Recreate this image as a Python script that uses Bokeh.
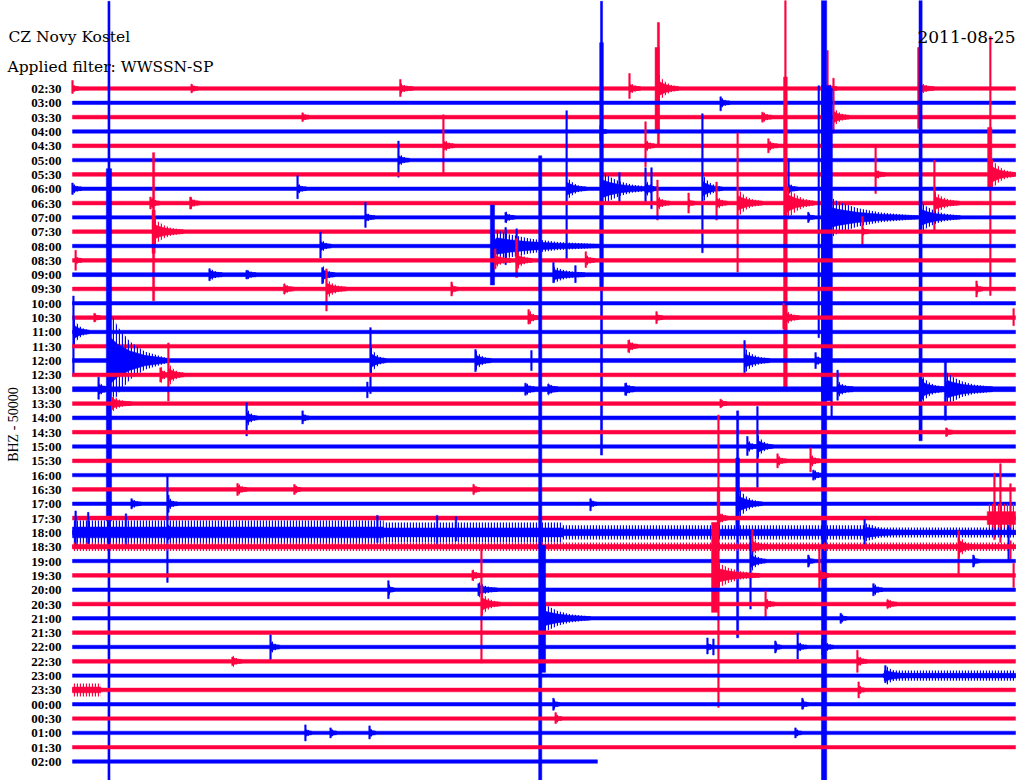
from math import pi
from bokeh.plotting import figure
from bokeh.models import Range1d, ColumnDataSource
from bokeh.embed import file_html
from bokeh.resources import INLINE
from bokeh.core.properties import value

STATION = "CZ Novy Kostel"
FILTER = "Applied filter: WWSSN-SP"
DATE = "2011-08-25"
AXIS_LABEL = "BHZ - 50000"

LABELS = ["02:30", "03:00", "03:30", "04:00", "04:30", "05:00", "05:30", "06:00",
          "06:30", "07:00", "07:30", "08:00", "08:30", "09:00", "09:30", "10:00",
          "10:30", "11:00", "11:30", "12:00", "12:30", "13:00", "13:30", "14:00",
          "14:30", "15:00", "15:30", "16:00", "16:30", "17:00", "17:30", "18:00",
          "18:30", "19:00", "19:30", "20:00", "20:30", "21:00", "21:30", "22:00",
          "22:30", "23:00", "23:30", "00:00", "00:30", "01:00", "01:30", "02:00"]

LINE_MINUTES = 30.0      # each trace covers 30 minutes
LAST_LINE_END = 16.70    # the last trace stops here (minutes)

# background noise half-amplitude per trace (in trace spacings)
NOISE = [0.13, 0.12, 0.13, 0.12, 0.13, 0.12, 0.13, 0.12, 0.13, 0.12, 0.13, 0.12,
         0.13, 0.14, 0.13, 0.12, 0.13, 0.12, 0.13, 0.14, 0.13, 0.17, 0.13, 0.13,
         0.13, 0.12, 0.13, 0.12, 0.13, 0.12, 0.14, 0.14, 0.14, 0.12, 0.13, 0.12,
         0.13, 0.12, 0.13, 0.12, 0.13, 0.12, 0.13, 0.12, 0.12, 0.12, 0.12, 0.12]

# stretches of raised noise: (trace, start min, end min, half-amplitude)
NOISY = [
    (30, 29.10, 30.0, 1.00),
    (31, 0.0, 9.9, 0.84),
    (31, 9.9, 15.6, 0.70),
    (31, 15.6, 25.5, 0.50),
    (31, 25.5, 30.0, 0.35),
    (32, 0.0, 30.0, 0.30),
    (41, 25.8, 30.0, 0.35),
    (42, 0.0, 0.9, 0.45),
]

# events: (trace, minute, peak up, peak down, peak duration s, coda amplitude, coda minutes)
EVENTS = [
    (0, 0.00, 0.56, 0.35, 3, 0.20, 0.20),
    (0, 3.79, 0.30, 0.30, 3, 0.20, 0.20),
    (0, 10.43, 0.63, 0.56, 3, 0.25, 0.40),
    (0, 17.72, 1.05, 0.70, 3, 0.35, 0.35),
    (0, 18.64, 4.61, 3.98, 4, 0.84, 0.65),
    (0, 18.60, 2.86, 2.93, 8, 0.0, 0.0),
    (0, 24.02, 2.65, 0.70, 3, 0.30, 0.30),
    (0, 26.91, 2.86, 2.79, 3, 0.42, 0.50),
    (1, 20.62, 0.42, 0.56, 3, 0.30, 0.30),
    (2, 7.32, 0.30, 0.30, 3, 0.20, 0.20),
    (2, 21.95, 0.35, 0.35, 3, 0.30, 0.30),
    (2, 24.21, 2.72, 1.12, 3, 0.56, 0.50),
    (3, 16.80, 0.42, 0.63, 3, 0.20, 0.20),
    (4, 11.80, 2.16, 1.96, 3, 0.42, 0.35),
    (4, 18.23, 1.68, 1.47, 3, 0.35, 0.30),
    (4, 22.14, 0.49, 0.49, 3, 0.30, 0.30),
    (5, 10.37, 1.33, 1.19, 3, 0.42, 0.35),
    (6, 25.55, 1.89, 1.33, 3, 0.30, 0.30),
    (6, 29.20, 9.64, 8.45, 3, 1.05, 0.80),
    (6, 29.18, 3.28, 0.91, 8, 0.0, 0.0),
    (7, 0.00, 0.40, 0.40, 3, 0.30, 0.30),
    (7, 7.16, 0.91, 0.70, 3, 0.30, 0.30),
    (7, 15.72, 5.45, 5.03, 3, 0.70, 0.64),
    (7, 16.83, 13.1, 18.6, 4, 1.05, 1.60),
    (7, 16.83, 10.2, 6.91, 7, 0.0, 0.0),
    (7, 17.40, 1.12, 1.00, 3, 0.0, 0.0),
    (7, 18.23, 1.47, 1.00, 3, 0.50, 0.40),
    (7, 18.42, 1.47, 1.40, 3, 0.0, 0.0),
    (7, 20.04, 5.24, 4.47, 3, 0.84, 0.64),
    (7, 22.78, 2.09, 0.35, 3, 0.35, 0.30),
    (8, 2.48, 0.42, 0.42, 3, 0.35, 0.30),
    (8, 3.75, 0.42, 0.42, 3, 0.35, 0.30),
    (8, 18.61, 1.61, 1.19, 3, 0.42, 0.40),
    (8, 19.60, 0.70, 0.70, 3, 0.20, 0.20),
    (8, 20.49, 1.47, 1.19, 3, 0.42, 0.35),
    (8, 21.16, 4.89, 4.82, 3, 0.84, 0.80),
    (8, 22.68, 14.2, 12.9, 3, 1.19, 0.95),
    (8, 22.68, 8.80, 12.9, 7, 0.0, 0.0),
    (8, 27.42, 3.00, 1.89, 3, 0.70, 0.80),
    (9, 9.32, 1.05, 0.70, 3, 0.30, 0.30),
    (9, 13.78, 0.35, 0.35, 3, 0.30, 0.30),
    (9, 23.41, 0.35, 0.35, 3, 0.20, 0.20),
    (9, 23.98, 9.20, 12.8, 18, 0.0, 0.0),
    (9, 23.91, 15.2, 39.3, 10, 1.40, 3.00),
    (9, 24.15, 9.00, 13.9, 3, 0.0, 0.0),
    (9, 23.74, 9.20, 8.40, 3, 0.0, 0.0),
    (9, 26.98, 15.2, 15.6, 6, 0.91, 1.27),
    (10, 2.58, 5.52, 4.82, 4, 0.84, 0.95),
    (10, 2.58, 1.50, 1.50, 6, 0.0, 0.0),
    (10, 25.13, 1.05, 0.98, 3, 0.20, 0.20),
    (11, 7.89, 0.98, 0.84, 3, 0.42, 0.35),
    (11, 13.36, 2.86, 2.72, 8, 1.00, 3.50),
    (11, 13.78, 1.30, 1.30, 3, 0.70, 1.00),
    (11, 14.13, 1.20, 1.20, 3, 0.0, 0.0),
    (12, 0.10, 0.70, 0.70, 3, 0.20, 0.20),
    (12, 13.45, 0.80, 0.60, 3, 0.40, 0.50),
    (12, 14.13, 1.54, 1.19, 4, 0.56, 0.50),
    (12, 16.33, 0.60, 0.50, 3, 0.30, 0.30),
    (13, 4.36, 0.42, 0.42, 3, 0.35, 0.40),
    (13, 5.54, 0.30, 0.30, 3, 0.25, 0.30),
    (13, 7.95, 0.49, 0.63, 3, 0.50, 0.40),
    (13, 15.30, 0.84, 0.56, 3, 0.45, 1.00),
    (13, 16.00, 0.63, 0.56, 3, 0.0, 0.0),
    (14, 6.74, 0.35, 0.35, 3, 0.30, 0.30),
    (14, 8.08, 1.40, 1.54, 3, 0.56, 0.64),
    (14, 12.06, 0.49, 0.49, 3, 0.30, 0.20),
    (14, 28.76, 0.56, 0.56, 3, 0.30, 0.20),
    (16, 0.70, 0.30, 0.30, 3, 0.20, 0.20),
    (16, 14.51, 0.56, 0.45, 3, 0.50, 0.30),
    (16, 18.58, 0.42, 0.42, 3, 0.20, 0.20),
    (16, 22.62, 1.00, 0.77, 3, 0.60, 0.50),
    (16, 29.94, 0.63, 0.56, 3, 0.0, 0.0),
    (17, 0.03, 2.51, 3.07, 3, 0.84, 0.50),
    (18, 17.69, 0.42, 0.42, 3, 0.40, 0.30),
    (19, 1.16, 25.1, 29.4, 4, 3.14, 1.90),
    (19, 1.16, 13.4, 11.2, 10, 0.0, 0.0),
    (19, 9.48, 2.30, 2.30, 3, 0.84, 0.50),
    (19, 12.82, 0.77, 0.77, 3, 0.56, 0.50),
    (19, 14.60, 0.70, 0.70, 3, 0.0, 0.0),
    (19, 21.38, 1.40, 0.84, 3, 0.70, 0.80),
    (19, 23.64, 0.56, 0.56, 3, 0.30, 0.30),
    (20, 2.80, 0.50, 0.50, 3, 0.50, 0.30),
    (20, 3.05, 2.23, 1.82, 3, 0.70, 0.50),
    (21, 0.83, 0.84, 0.70, 3, 0.40, 0.30),
    (21, 9.38, 0.50, 0.60, 3, 0.0, 0.0),
    (21, 14.41, 0.42, 0.42, 3, 0.35, 0.30),
    (21, 15.14, 0.35, 0.35, 3, 0.30, 0.30),
    (21, 17.59, 0.42, 0.42, 3, 0.35, 0.30),
    (21, 24.34, 1.33, 0.77, 3, 0.42, 0.50),
    (21, 27.04, 0.70, 0.70, 3, 0.70, 0.70),
    (21, 27.77, 2.03, 2.16, 4, 1.00, 1.50),
    (22, 1.27, 0.42, 0.42, 3, 0.42, 0.60),
    (22, 20.62, 0.30, 0.30, 3, 0.20, 0.20),
    (23, 5.54, 1.05, 1.26, 3, 0.56, 0.35),
    (23, 7.32, 0.49, 0.42, 3, 0.30, 0.20),
    (24, 27.80, 0.30, 0.30, 3, 0.20, 0.20),
    (25, 21.47, 0.70, 0.63, 3, 0.40, 0.30),
    (25, 21.79, 2.79, 2.86, 3, 0.70, 0.50),
    (26, 22.43, 0.49, 0.49, 3, 0.30, 0.30),
    (26, 23.48, 0.91, 0.77, 3, 0.40, 0.30),
    (27, 23.57, 0.35, 0.35, 3, 0.35, 0.30),
    (28, 5.25, 0.42, 0.42, 3, 0.35, 0.30),
    (28, 7.06, 0.35, 0.35, 3, 0.30, 0.20),
    (28, 12.76, 0.35, 0.35, 3, 0.30, 0.20),
    (29, 1.88, 0.35, 0.35, 3, 0.30, 0.30),
    (29, 3.05, 0.60, 0.60, 3, 0.40, 0.30),
    (29, 16.48, 0.35, 0.49, 3, 0.30, 0.20),
    (29, 21.16, 6.49, 9.36, 4, 1.00, 0.80),
    (29, 21.16, 3.20, 2.20, 7, 0.0, 0.0),
    (30, 20.55, 2.16, 0.50, 5, 0.50, 0.30),
    (30, 29.33, 3.14, 1.50, 3, 0.0, 0.0),
    (30, 29.52, 3.80, 1.70, 3, 0.0, 0.0),
    (30, 29.84, 2.40, 1.00, 3, 0.0, 0.0),
    (31, 0.10, 1.50, 1.00, 3, 0.0, 0.0),
    (31, 0.50, 1.40, 0.80, 3, 0.0, 0.0),
    (31, 1.70, 1.30, 1.00, 3, 0.0, 0.0),
    (31, 3.02, 3.98, 3.49, 3, 0.90, 0.40),
    (31, 9.70, 1.19, 0.70, 3, 0.0, 0.0),
    (31, 11.60, 1.19, 0.84, 3, 0.0, 0.0),
    (31, 12.20, 1.10, 0.60, 3, 0.0, 0.0),
    (31, 25.20, 0.90, 0.90, 3, 0.50, 1.50),
    (31, 29.78, 0.50, 1.96, 3, 0.0, 0.0),
    (32, 21.63, 1.19, 1.19, 3, 0.50, 0.50),
    (32, 28.19, 1.12, 1.89, 3, 0.70, 0.50),
    (32, 29.84, 0.42, 0.98, 3, 0.0, 0.0),
    (33, 21.57, 1.75, 3.35, 3, 0.70, 0.50),
    (33, 23.41, 0.42, 0.42, 3, 0.30, 0.20),
    (33, 28.66, 0.42, 0.42, 3, 0.30, 0.20),
    (34, 12.73, 0.35, 0.35, 3, 0.30, 0.30),
    (34, 20.36, 0.0, 0.0, 0, 1.00, 1.50),
    (34, 20.55, 11.2, 9.22, 3, 0.0, 0.0),
    (34, 20.43, 3.70, 2.58, 12, 0.0, 0.0),
    (34, 23.76, 1.96, 1.05, 3, 0.56, 0.30),
    (34, 29.94, 0.84, 0.84, 3, 0.0, 0.0),
    (35, 10.05, 0.63, 0.63, 3, 0.35, 0.20),
    (35, 12.92, 0.42, 0.42, 3, 0.42, 0.60),
    (35, 25.48, 0.42, 0.42, 3, 0.40, 0.30),
    (36, 13.01, 3.84, 4.12, 3, 0.70, 0.60),
    (36, 22.05, 0.91, 0.98, 3, 0.35, 0.30),
    (36, 25.93, 0.30, 0.30, 3, 0.30, 0.30),
    (37, 14.88, 32.3, 11.3, 6, 1.05, 1.60),
    (37, 14.95, 5.10, 3.77, 12, 0.0, 0.0),
    (37, 24.44, 0.35, 0.35, 3, 0.30, 0.20),
    (39, 6.30, 0.84, 0.98, 3, 0.42, 0.30),
    (39, 20.20, 0.63, 0.49, 3, 0.30, 0.20),
    (39, 20.39, 0.56, 0.56, 3, 0.0, 0.0),
    (39, 22.36, 0.42, 0.42, 3, 0.30, 0.20),
    (39, 23.07, 0.98, 0.84, 3, 0.35, 0.30),
    (39, 23.86, 0.56, 0.56, 3, 0.50, 0.35),
    (40, 5.09, 0.30, 0.30, 3, 0.30, 0.30),
    (40, 24.97, 0.77, 0.77, 3, 0.40, 0.30),
    (41, 25.86, 0.70, 0.50, 3, 0.56, 0.80),
    (42, 25.01, 0.56, 0.56, 3, 0.30, 0.20),
    (43, 15.30, 0.42, 0.42, 3, 0.30, 0.20),
    (43, 23.22, 0.42, 0.35, 3, 0.30, 0.20),
    (44, 15.37, 0.42, 0.35, 3, 0.30, 0.20),
    (45, 7.41, 0.56, 0.56, 3, 0.30, 0.20),
    (45, 8.21, 0.35, 0.35, 3, 0.25, 0.20),
    (45, 9.45, 0.49, 0.42, 3, 0.30, 0.20),
    (45, 23.00, 0.35, 0.35, 3, 0.25, 0.20),
]

# ---------------- styling / layout ----------------
RED = "#ff0040"
BLUE = "#0000ff"
LABEL_FONT = value("Liberation Serif")
HEAD_FONT = value("DejaVu Serif")
# envelope used to draw each coda (fraction of its length, fraction of its amplitude)
CODA_FRAC = [0.0, 0.04, 0.15, 0.35, 0.6, 1.0]
CODA_MULT = [0.4, 1.0, 0.7, 0.38, 0.16, 0.0]
CORE_SHARE = 0.45   # solid inner part of codas / noisy stretches; the rest is hatched

W, H = 1024, 780
PX_PER_MIN = 943.0 / 30.0
ROW_PX = 14.32
X0_PX = 72.0
Y0_PX = 88.0
x_start = -X0_PX / PX_PER_MIN
x_end = x_start + W / PX_PER_MIN
y_top = -Y0_PX / ROW_PX
y_bottom = y_top + H / ROW_PX


def t_at(px):
    return x_start + px / PX_PER_MIN


def row_at(py):
    return y_top + py / ROW_PX


p = figure(width=W, height=H, x_range=Range1d(x_start, x_end),
           y_range=Range1d(y_bottom, y_top), output_backend="svg",
           toolbar_location=None, min_border=0, x_axis_location=None,
           y_axis_location=None, background_fill_color="white",
           border_fill_color="white", outline_line_color=None)
p.grid.visible = False

shapes = dict(xs=[], ys=[], c=[], fa=[], la=[], hp=[])


def add_shape(x, y, c, hatched=False):
    shapes["xs"].append(x)
    shapes["ys"].append(y)
    shapes["c"].append(c)
    shapes["fa"].append(0.0 if hatched else 1.0)
    shapes["la"].append(0.0 if hatched else 1.0)
    shapes["hp"].append("|" if hatched else " ")


def add_rect(t0, t1, y0, y1, c, hatched=False):
    add_shape([t0, t1, t1, t0], [y0, y0, y1, y1], c, hatched)


def add_coda(r, t, amp, dur, nz, end, c, share, hatched):
    tx = [min(t + f * dur, end) for f in CODA_FRAC]
    top = [r - (amp * share * m + nz) for m in CODA_MULT]
    bot = [r + (amp * share * m + nz) for m in CODA_MULT]
    add_shape(tx + tx[::-1], top + bot[::-1], c, hatched)


for r in range(len(LABELS)):
    c = RED if r % 2 == 0 else BLUE
    end = LAST_LINE_END if r == len(LABELS) - 1 else LINE_MINUTES
    nz = NOISE[r]
    add_rect(0.0, end, r - nz, r + nz, c)
    for (rr, t0, t1, a) in NOISY:
        if rr == r:
            add_rect(t0, min(t1, end), r - a, r + a, c, hatched=True)
            add_rect(t0, min(t1, end), r - a * CORE_SHARE, r + a * CORE_SHARE, c)
    for (rr, t, up, dn, sec, camp, cdur) in EVENTS:
        if rr != r:
            continue
        if camp > 0:
            add_coda(r, t, camp, cdur, nz, end, c, 1.0, True)
            add_coda(r, t, camp, cdur, nz, end, c, CORE_SHARE, False)
        if up + dn > 0 and sec > 0:
            hw = sec / 60.0 / 2.0
            add_rect(t - hw, t + hw, r - up, r + dn, c)

src = ColumnDataSource(shapes)
p.patches(xs="xs", ys="ys", fill_color="c", fill_alpha="fa", line_color="c",
          line_alpha="la", line_width=0.5, hatch_pattern="hp", hatch_color="c",
          hatch_scale=3.0, hatch_weight=1.3, source=src)

# hour labels
p.text(x=[t_at(61)] * len(LABELS), y=list(range(len(LABELS))), text=LABELS,
       text_align="right", text_baseline="middle", text_font=LABEL_FONT,
       text_font_size="13px", text_font_style="bold", text_color="black")

# headers
p.text(x=[t_at(8)], y=[row_at(36)], text=[STATION], text_align="left",
       text_baseline="alphabetic", text_font=HEAD_FONT, text_font_size="15.5px",
       text_color="black")
p.text(x=[t_at(7)], y=[row_at(66)], text=[FILTER], text_align="left",
       text_baseline="alphabetic", text_font=HEAD_FONT, text_font_size="15.5px",
       text_color="black")
p.text(x=[t_at(1015)], y=[row_at(36)], text=[DATE], text_align="right",
       text_baseline="alphabetic", text_font=HEAD_FONT, text_font_size="17px",
       text_color="black")
p.text(x=[t_at(13)], y=[row_at(424)], text=[AXIS_LABEL], angle=pi / 2,
       text_align="center", text_baseline="middle", text_font=LABEL_FONT,
       text_font_size="14px", text_color="black")

open("out.html", "w").write(file_html(p, INLINE))
